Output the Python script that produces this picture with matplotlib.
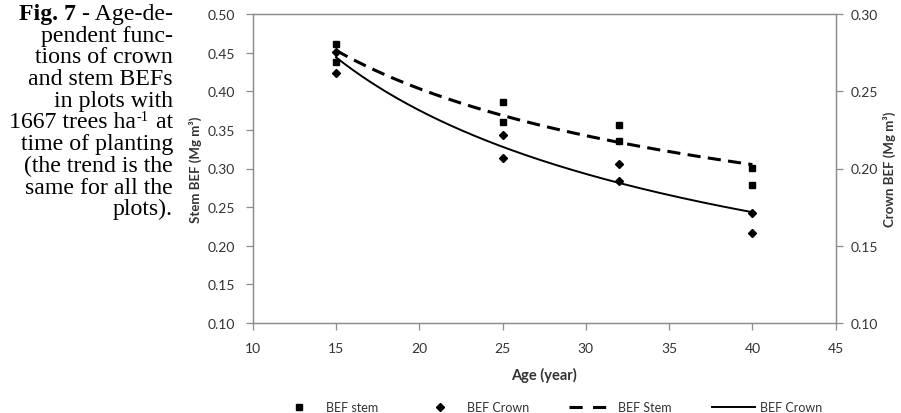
import numpy as np
import matplotlib
matplotlib.use("Agg")
import matplotlib.pyplot as plt
from matplotlib.lines import Line2D

plt.rcParams['font.family'] = ['Lato', 'DejaVu Sans']
plt.rcParams['mathtext.fontset'] = 'stix'

# ---- data ----
age_stem = [15, 15, 25, 25, 32, 32, 40, 40]
bef_stem = [0.461, 0.438, 0.386, 0.360, 0.356, 0.335, 0.301, 0.279]
age_crown = [15, 15, 25, 25, 32, 32, 40, 40]
bef_crown = [0.2755, 0.262, 0.222, 0.207, 0.2026, 0.1916, 0.1714, 0.1584]
# power trend lines y = a * age^b (as shown in the figure)
stem_trend = (1.349, -0.403)
crown_trend = (0.9686, -0.469)
trend_range = (15, 40)

x_ticks = [10, 15, 20, 25, 30, 35, 40, 45]
stem_ticks = [0.10, 0.15, 0.20, 0.25, 0.30, 0.35, 0.40, 0.45, 0.50]
crown_ticks = [0.10, 0.15, 0.20, 0.25, 0.30]

caption_lines = ["Age-de-",
                 "pendent func-",
                 "tions of crown",
                 "and stem BEFs",
                 "in plots with",
                 "1667 trees ha|-1| at",
                 "time of planting",
                 "(the trend is the",
                 "same for all the",
                 "plots)."]
caption_bold = "Fig. 7"

W, H = 901, 414
fig = plt.figure(figsize=(W / 100, H / 100), dpi=100)
ax = fig.add_axes([252.7 / W, 1 - 324 / H, (835.7 - 252.7) / W, (324 - 15) / H])
ax2 = ax.twinx()

grey = '#8c8c8c'
txtc = '#333333'

for a in (ax, ax2):
    for s in a.spines.values():
        s.set_color(grey)
        s.set_linewidth(0.9)
    a.tick_params(colors=grey, labelcolor=txtc, labelsize=10, length=5, width=0.9,
                  direction='out')
ax.tick_params(axis='y', pad=8)
ax2.tick_params(axis='y', pad=6)
ax.tick_params(axis='x', pad=9)

ax.set_xlim(10, 45)
ax.set_ylim(0.10, 0.50)
ax2.set_ylim(0.10, 0.30)
ax.set_xticks(x_ticks)
ax.set_yticks(stem_ticks)
ax2.set_yticks(crown_ticks)
ax.set_yticklabels([f"{v:.2f}" for v in stem_ticks])
ax2.set_yticklabels([f"{v:.2f}" for v in crown_ticks])
ax.set_xticklabels([str(v) for v in x_ticks])

xt = np.linspace(trend_range[0], trend_range[1], 200)
h1, = ax.plot(age_stem, bef_stem, linestyle='none', marker='s', markersize=4.5,
              color='black', label='BEF stem')
h3, = ax.plot(xt, stem_trend[0] * xt ** stem_trend[1], color='black', lw=2.2,
              dashes=(4.3, 2.4), label='BEF Stem')
h2, = ax2.plot(age_crown, bef_crown, linestyle='none', marker='D', markersize=3.6,
               color='black', label='BEF Crown')
h4, = ax2.plot(xt, crown_trend[0] * xt ** crown_trend[1], color='black', lw=1.4,
               label='BEF Crown')

ax.set_xlabel('Age (year)', fontsize=10.5, fontweight='bold', color=txtc, labelpad=9)
ax.set_ylabel('Stem BEF (Mg m³)', fontsize=9.5, fontweight='bold', color=txtc, labelpad=4)
ax2.set_ylabel('Crown BEF (Mg m³)', fontsize=9.5, fontweight='bold', color=txtc, labelpad=3,
               rotation=90)

# legend proxy for the dashed line so that two dashes fit in the handle
h3_leg = Line2D([], [], color='black', lw=2.2, dashes=(4.3, 3.4))
fig.legend(handles=[h1, h2, h3_leg, h4],
           labels=['BEF stem', 'BEF Crown', 'BEF Stem', 'BEF Crown'],
           loc='center', ncol=4,
           bbox_to_anchor=(550 / W, 1 - 408 / H), frameon=False, fontsize=9,
           handlelength=3.5, handletextpad=0.4, columnspacing=3.2,
           labelcolor=txtc)

# ---- caption (right-aligned, Times-like) ----
serif = ['Liberation Serif', 'DejaVu Serif']
cap_fs = 17.2
right = 173
renderer = fig.canvas.get_renderer()


def put_right(x_px, y_px, s, **kw):
    t = fig.text(x_px / W, 1 - y_px / H, s, ha='right', va='baseline',
                 family=serif, color='black', **kw)
    bb = t.get_window_extent(renderer=renderer)
    return bb.x0


for i, line in enumerate(caption_lines):
    yb = 20 + 21.7 * i
    if i == 0:
        x0 = put_right(right, yb, " - " + line, fontsize=cap_fs)
        put_right(x0, yb, caption_bold, fontsize=cap_fs, fontweight='bold')
    elif '|' in line:
        pre, sup, post = line.split('|')
        x0 = put_right(right, yb, post, fontsize=cap_fs)
        x1 = put_right(x0 - 1, yb - 7, sup, fontsize=cap_fs * 0.6)
        put_right(x1 - 0.5, yb, pre, fontsize=cap_fs)
    else:
        put_right(right, yb, line, fontsize=cap_fs)

fig.savefig('out.png', dpi=100)
